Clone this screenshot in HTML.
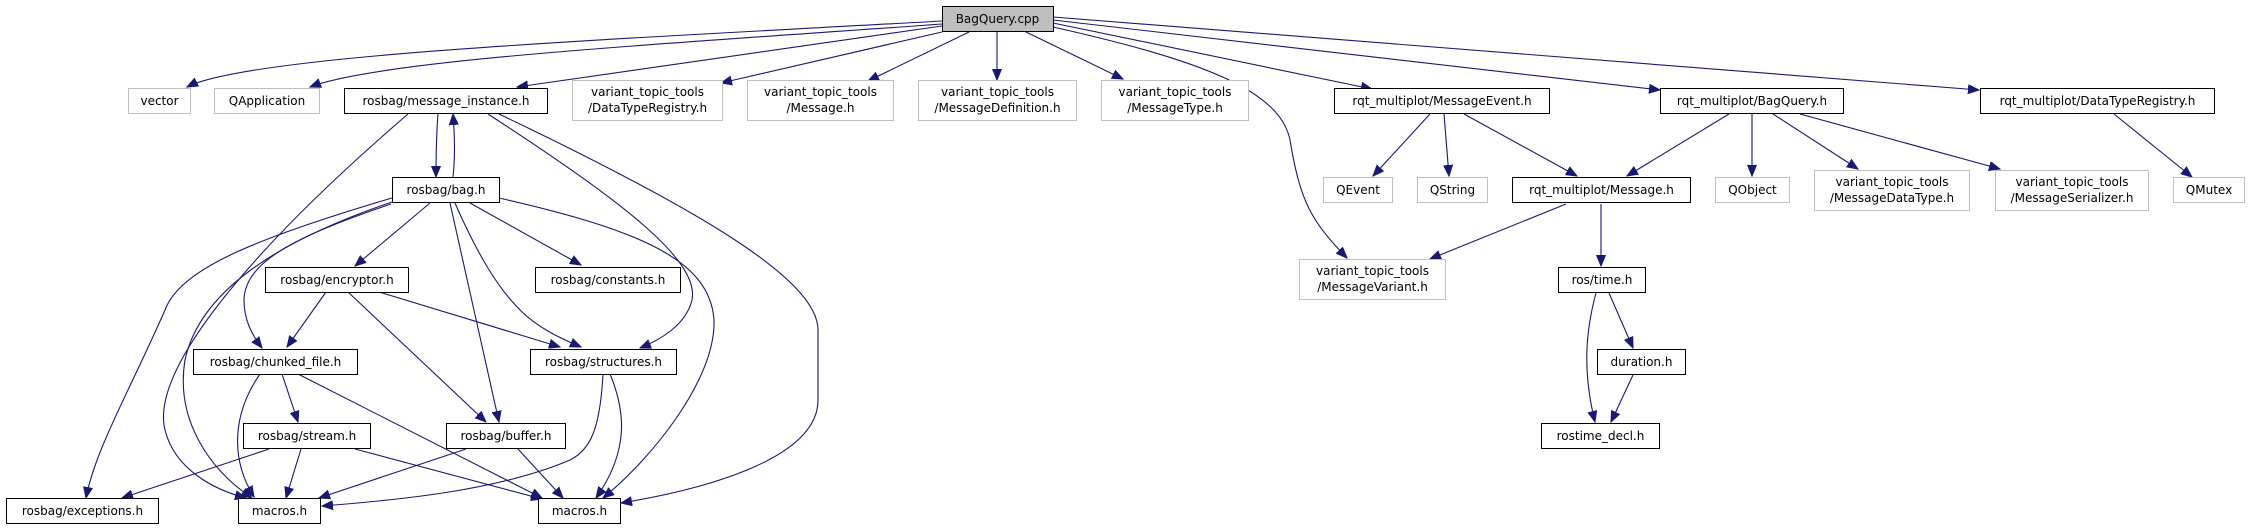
<!DOCTYPE html>
<html><head><meta charset="utf-8"><style>
html,body{margin:0;padding:0;background:#fff;}
svg{display:block;}
text{font-family:"DejaVu Sans","Liberation Sans",sans-serif;font-size:12px;fill:#000;text-anchor:middle;}
.e{fill:none;stroke:#191970;stroke-width:1.1;marker-end:url(#a);}
.b{fill:#fff;stroke:#000;stroke-width:1;}
.g{fill:#fff;stroke:#bfbfbf;stroke-width:1;}
</style></head><body>
<svg width="2251" height="529" viewBox="0 0 2251 529" xmlns="http://www.w3.org/2000/svg">
<defs><marker id="a" markerUnits="userSpaceOnUse" markerWidth="12" markerHeight="10" refX="11" refY="5" orient="auto"><path d="M0,0.5 L11,5 L0,9.5 z" fill="#191970" stroke="#191970"/></marker></defs>

<!-- edges from BagQuery.cpp -->
<path class="e" d="M942,21 C600,40 250,55 187,87"/>
<path class="e" d="M942,24 C650,45 380,60 310,87"/>
<path class="e" d="M942,26 L517,87"/>
<path class="e" d="M942,32 L721,83"/>
<path class="e" d="M969,32 L868,81"/>
<path class="e" d="M997,31 L997,80"/>
<path class="e" d="M1026,32 L1123,79"/>
<path class="e" d="M1053,23 L1372,89"/>
<path class="e" d="M1053,20 L1660,90"/>
<path class="e" d="M1053,17 L1979,90"/>
<path class="e" d="M1053,27 C1200,60 1280,90 1290,140 C1300,200 1310,220 1347,258"/>

<!-- message_instance -->
<path class="e" d="M438,113 C436,140 436,160 436,177"/>
<path class="e" d="M453,177 C455,160 455,140 453,114"/>
<path class="e" d="M408,114 C250,250 150,370 165,430 C175,470 215,490 246,498"/>
<path class="e" d="M488,114 C620,200 700,260 692,300 C686,325 660,340 640,348"/>
<path class="e" d="M499,114 C700,210 818,280 818,330 L818,400 C818,460 700,490 621,503"/>

<!-- bag.h -->
<path class="e" d="M392,198 C250,240 180,270 165,310 C130,390 95,450 86,498"/>
<path class="e" d="M392,202 C280,240 200,290 185,360 C175,420 210,470 252,498"/>
<path class="e" d="M391,204 C300,235 245,260 244,300 C244,320 252,335 262,348"/>
<path class="e" d="M430,203 L355,266"/>
<path class="e" d="M450,203 L499,422"/>
<path class="e" d="M455,203 C480,260 500,290 520,310 C540,330 565,340 581,347"/>
<path class="e" d="M470,203 L581,265"/>
<path class="e" d="M499,198 C640,230 710,260 714,320 C716,380 650,460 603,498"/>

<!-- encryptor -->
<path class="e" d="M326,292 L287,347"/>
<path class="e" d="M348,292 L486,422"/>
<path class="e" d="M379,292 L560,347"/>

<!-- chunked_file -->
<path class="e" d="M260,374 C235,410 228,455 254,497"/>
<path class="e" d="M282,374 L298,422"/>
<path class="e" d="M298,374 L542,498"/>

<!-- structures -->
<path class="e" d="M603,374 C600,430 590,450 570,460 C500,490 400,500 322,506"/>
<path class="e" d="M610,374 C625,410 630,450 596,498"/>

<!-- stream -->
<path class="e" d="M269,449 L122,498"/>
<path class="e" d="M301,449 L286,498"/>
<path class="e" d="M355,449 L542,499"/>

<!-- buffer -->
<path class="e" d="M466,449 L319,498"/>
<path class="e" d="M518,449 L563,498"/>

<!-- right side -->
<path class="e" d="M1430,114 L1373,176"/>
<path class="e" d="M1444,114 L1449,176"/>
<path class="e" d="M1464,114 L1577,176"/>
<path class="e" d="M1729,114 L1627,176"/>
<path class="e" d="M1752,114 L1752,176"/>
<path class="e" d="M1773,114 L1858,169"/>
<path class="e" d="M1800,114 L2000,169"/>
<path class="e" d="M2114,114 L2192,177"/>
<path class="e" d="M1566,204 L1430,259"/>
<path class="e" d="M1601,204 L1601,266"/>
<path class="e" d="M1596,293 C1586,330 1582,370 1595,422"/>
<path class="e" d="M1609,293 L1633,348"/>
<path class="e" d="M1633,375 L1611,422"/>

<!-- nodes -->
<rect x="942.5" y="6.5" width="111" height="25" fill="#bfbfbf" stroke="#000"/><text x="997.5" y="23">BagQuery.cpp</text>

<rect class="g" x="128.5" y="88.5" width="62" height="25"/><text x="159.5" y="105">vector</text>
<rect class="g" x="214.5" y="88.5" width="105" height="25"/><text x="267" y="105">QApplication</text>
<rect class="b" x="344.5" y="88.5" width="203" height="25"/><text x="446" y="105">rosbag/message_instance.h</text>
<rect class="g" x="572.5" y="80.5" width="150" height="40"/><text x="647.5" y="96">variant_topic_tools</text><text x="647.5" y="112">/DataTypeRegistry.h</text>
<rect class="g" x="747.5" y="80.5" width="146" height="40"/><text x="820.5" y="96">variant_topic_tools</text><text x="820.5" y="112">/Message.h</text>
<rect class="g" x="918.5" y="80.5" width="158" height="40"/><text x="997.5" y="96">variant_topic_tools</text><text x="997.5" y="112">/MessageDefinition.h</text>
<rect class="g" x="1101.5" y="80.5" width="147" height="40"/><text x="1175" y="96">variant_topic_tools</text><text x="1175" y="112">/MessageType.h</text>
<rect class="b" x="1334.5" y="88.5" width="215" height="25"/><text x="1442" y="105">rqt_multiplot/MessageEvent.h</text>
<rect class="b" x="1660.5" y="88.5" width="183" height="25"/><text x="1752" y="105">rqt_multiplot/BagQuery.h</text>
<rect class="b" x="1980.5" y="88.5" width="234" height="25"/><text x="2097.5" y="105">rqt_multiplot/DataTypeRegistry.h</text>

<rect class="b" x="392.5" y="177.5" width="107" height="25"/><text x="446" y="194">rosbag/bag.h</text>
<rect class="g" x="1323.5" y="177.5" width="69" height="25"/><text x="1358" y="194">QEvent</text>
<rect class="g" x="1417.5" y="177.5" width="70" height="25"/><text x="1452.5" y="194">QString</text>
<rect class="b" x="1512.5" y="177.5" width="178" height="25"/><text x="1601.5" y="194">rqt_multiplot/Message.h</text>
<rect class="g" x="1715.5" y="177.5" width="74" height="25"/><text x="1752.5" y="194">QObject</text>
<rect class="g" x="1814.5" y="170.5" width="155" height="40"/><text x="1892" y="186">variant_topic_tools</text><text x="1892" y="202">/MessageDataType.h</text>
<rect class="g" x="1995.5" y="170.5" width="153" height="40"/><text x="2072" y="186">variant_topic_tools</text><text x="2072" y="202">/MessageSerializer.h</text>
<rect class="g" x="2173.5" y="177.5" width="71" height="25"/><text x="2209" y="194">QMutex</text>

<rect class="b" x="265.5" y="267.5" width="143" height="25"/><text x="337" y="284">rosbag/encryptor.h</text>
<rect class="b" x="535.5" y="267.5" width="145" height="25"/><text x="608" y="284">rosbag/constants.h</text>
<rect class="g" x="1299.5" y="259.5" width="146" height="40"/><text x="1372.5" y="275">variant_topic_tools</text><text x="1372.5" y="291">/MessageVariant.h</text>
<rect class="b" x="1558.5" y="267.5" width="87" height="25"/><text x="1602" y="284">ros/time.h</text>

<rect class="b" x="193.5" y="349.5" width="164" height="25"/><text x="275.5" y="366">rosbag/chunked_file.h</text>
<rect class="b" x="530.5" y="349.5" width="146" height="25"/><text x="603.5" y="366">rosbag/structures.h</text>
<rect class="b" x="1597.5" y="349.5" width="88" height="25"/><text x="1641.5" y="366">duration.h</text>

<rect class="b" x="243.5" y="423.5" width="127" height="25"/><text x="307" y="440">rosbag/stream.h</text>
<rect class="b" x="446.5" y="423.5" width="119" height="25"/><text x="506" y="440">rosbag/buffer.h</text>
<rect class="b" x="1541.5" y="423.5" width="118" height="25"/><text x="1600.5" y="440">rostime_decl.h</text>

<rect class="b" x="6.5" y="498.5" width="152" height="25"/><text x="82.5" y="515">rosbag/exceptions.h</text>
<rect class="b" x="238.5" y="498.5" width="82" height="25"/><text x="279.5" y="515">macros.h</text>
<rect class="b" x="538.5" y="498.5" width="82" height="25"/><text x="579.5" y="515">macros.h</text>
</svg>
</body></html>
